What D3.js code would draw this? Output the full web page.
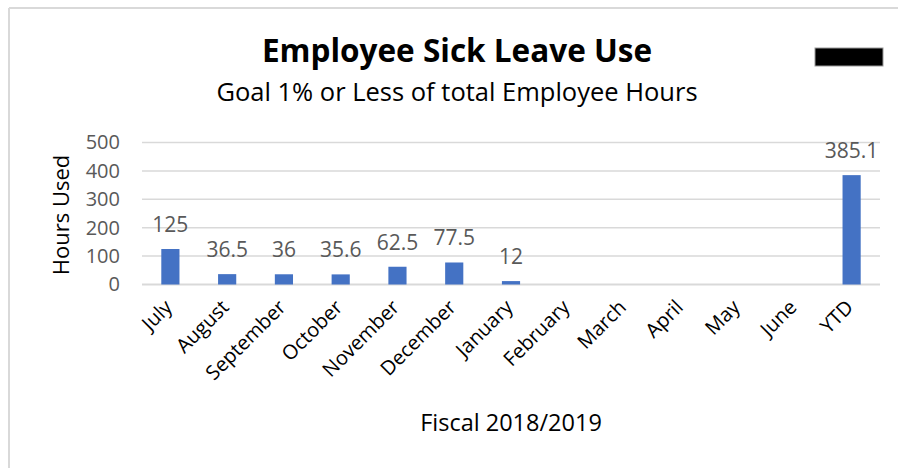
<!DOCTYPE html>
<html>
<head>
<meta charset="utf-8">
<script src="https://cdn.jsdelivr.net/npm/d3@7"></script>
<style>
  body { margin: 0; background: #fff; }
  svg { display: block; font-family: "Open Sans", "Noto Sans", sans-serif; }
</style>
</head>
<body>
<svg id="chart" width="898" height="468"></svg>
<script>
const months = ["July", "August", "September", "October", "November", "December",
  "January", "February", "March", "April", "May", "June", "YTD"];
const hours = [125, 36.5, 36, 35.6, 62.5, 77.5, 12, null, null, null, null, null, 385.1];
const yTicks = [0, 100, 200, 300, 400, 500];

const svg = d3.select("#chart");
const plot = {left: 142, right: 880, top: 142.5, bottom: 284.5};

// frame edges (only top/left show in the crop)
svg.append("line").attr("x1", 9).attr("x2", 898).attr("y1", 8).attr("y2", 8)
  .attr("stroke", "#d9d9d9").attr("stroke-width", 2);
svg.append("line").attr("x1", 9).attr("x2", 9).attr("y1", 8).attr("y2", 468)
  .attr("stroke", "#d9d9d9").attr("stroke-width", 2);

const x = d3.scaleBand().domain(months).range([plot.left, plot.right]).paddingInner(0.68).paddingOuter(0.34);
const y = d3.scaleLinear().domain([0, 500]).range([plot.bottom, plot.top]);

// gridlines
svg.append("g").selectAll("line").data(yTicks).enter().append("line")
  .attr("x1", plot.left).attr("x2", plot.right)
  .attr("y1", d => y(d)).attr("y2", d => y(d))
  .attr("stroke", "#d9d9d9").attr("stroke-width", d => d === 0 ? 2 : 1.5);

// y axis labels
const yAxis = svg.append("g").attr("transform", `translate(${plot.left - 22},0)`)
  .call(d3.axisLeft(y).tickValues(yTicks).tickSize(0).tickPadding(0));
yAxis.select(".domain").remove();
yAxis.selectAll("text").attr("fill", "#595959").style("font-size", "20px")
  .style("font-family", "\"Open Sans\", sans-serif");

// bars
const vals = months.map((m, i) => ({m, v: hours[i]})).filter(d => d.v !== null);
svg.append("g").selectAll("rect").data(vals).enter().append("rect")
  .attr("x", d => x(d.m)).attr("width", x.bandwidth())
  .attr("y", d => y(d.v)).attr("height", d => y(0) - y(d.v))
  .attr("fill", "#4472c4");

// value labels
svg.append("g").selectAll("text").data(vals).enter().append("text")
  .attr("x", d => x(d.m) + x.bandwidth() / 2)
  .attr("y", d => y(d.v) - 17)
  .attr("text-anchor", "middle").attr("fill", "#595959").style("font-size", "21px")
  .text(d => d.v);

// x labels
svg.append("g").selectAll("text").data(months).enter().append("text")
  .attr("transform", d => `translate(${x(d) + x.bandwidth() / 2 + 3},${plot.bottom + 24}) rotate(-45)`)
  .attr("text-anchor", "end").attr("fill", "#000").style("font-size", "20px")
  .text(d => d);

// axis titles
svg.append("text").attr("transform", `translate(69,215) rotate(-90)`)
  .attr("text-anchor", "middle").style("font-size", "22px").attr("fill", "#000")
  .text("Hours Used");
svg.append("text").attr("x", (plot.left + plot.right) / 2).attr("y", 431)
  .attr("text-anchor", "middle").style("font-size", "23.5px").attr("fill", "#000")
  .text("Fiscal 2018/2019");

// titles
svg.append("text").attr("x", 457).attr("y", 62).attr("text-anchor", "middle")
  .style("font-size", "31.5px").style("font-weight", "bold").attr("fill", "#000")
  .text("Employee Sick Leave Use");
svg.append("text").attr("x", 457).attr("y", 101).attr("text-anchor", "middle")
  .style("font-size", "25.5px").attr("fill", "#000")
  .text("Goal 1% or Less of total Employee Hours");

// legend swatch
svg.append("rect").attr("x", 815).attr("y", 48).attr("width", 68).attr("height", 18)
  .attr("fill", "#000").attr("stroke", "#999").attr("stroke-width", 1);
</script>
</body>
</html>
